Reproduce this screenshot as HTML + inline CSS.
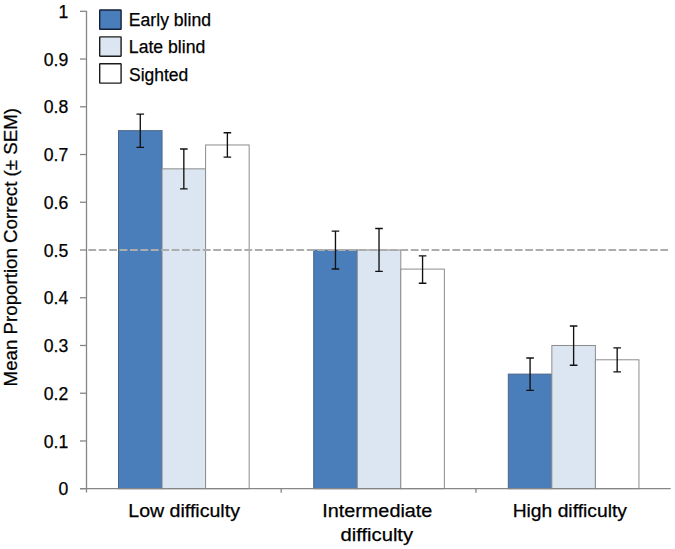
<!DOCTYPE html>
<html><head><meta charset="utf-8"><style>
html,body{margin:0;padding:0;background:#fff;}
body{width:675px;height:549px;overflow:hidden;}
svg{display:block;}
.t{font-family:"Liberation Sans",sans-serif;font-size:18px;fill:#000;stroke:#000;stroke-width:0.25px;}
</style></head><body>
<svg width="675" height="549" viewBox="0 0 675 549">
<rect x="118.50" y="130.65" width="43.55" height="358.05" fill="#4a7ebb" stroke="#4b6688" stroke-width="1"/>
<rect x="162.05" y="168.84" width="43.55" height="319.86" fill="#dce6f2" stroke="#8c8c8c" stroke-width="1"/>
<rect x="205.60" y="144.97" width="43.55" height="343.73" fill="#ffffff" stroke="#8c8c8c" stroke-width="1"/>
<rect x="313.70" y="250.00" width="43.55" height="238.70" fill="#4a7ebb" stroke="#4b6688" stroke-width="1"/>
<rect x="357.25" y="250.00" width="43.55" height="238.70" fill="#dce6f2" stroke="#8c8c8c" stroke-width="1"/>
<rect x="400.80" y="269.10" width="43.55" height="219.60" fill="#ffffff" stroke="#8c8c8c" stroke-width="1"/>
<rect x="508.30" y="374.12" width="43.55" height="114.58" fill="#4a7ebb" stroke="#4b6688" stroke-width="1"/>
<rect x="551.85" y="345.48" width="43.55" height="143.22" fill="#dce6f2" stroke="#8c8c8c" stroke-width="1"/>
<rect x="595.40" y="359.80" width="43.55" height="128.90" fill="#ffffff" stroke="#8c8c8c" stroke-width="1"/>
<line x1="88.4" y1="250.00" x2="668" y2="250.00" stroke="#adadad" stroke-width="2.2" stroke-dasharray="7.8 2.6"/>
<path d="M140.28 114.10V147.30M136.47 114.10H144.08M136.47 147.30H144.08" stroke="#111111" stroke-width="1.35" fill="none"/>
<path d="M183.83 149.00V188.90M180.03 149.00H187.63M180.03 188.90H187.63" stroke="#111111" stroke-width="1.35" fill="none"/>
<path d="M227.38 132.70V157.10M223.57 132.70H231.18M223.57 157.10H231.18" stroke="#111111" stroke-width="1.35" fill="none"/>
<path d="M335.47 231.10V269.00M331.67 231.10H339.27M331.67 269.00H339.27" stroke="#111111" stroke-width="1.35" fill="none"/>
<path d="M379.02 228.50V271.40M375.22 228.50H382.82M375.22 271.40H382.82" stroke="#111111" stroke-width="1.35" fill="none"/>
<path d="M422.57 255.80V283.20M418.77 255.80H426.37M418.77 283.20H426.37" stroke="#111111" stroke-width="1.35" fill="none"/>
<path d="M530.08 358.00V390.30M526.28 358.00H533.88M526.28 390.30H533.88" stroke="#111111" stroke-width="1.35" fill="none"/>
<path d="M573.62 326.00V365.20M569.83 326.00H577.42M569.83 365.20H577.42" stroke="#111111" stroke-width="1.35" fill="none"/>
<path d="M617.17 347.90V371.90M613.38 347.90H620.97M613.38 371.90H620.97" stroke="#111111" stroke-width="1.35" fill="none"/>
<line x1="86.5" y1="11" x2="86.5" y2="492.5" stroke="#868686" stroke-width="1.3"/>
<line x1="80" y1="488.70" x2="670.7" y2="488.70" stroke="#868686" stroke-width="1.3"/>
<line x1="80" y1="488.70" x2="86.5" y2="488.70" stroke="#868686" stroke-width="1.3"/>
<line x1="80" y1="440.96" x2="86.5" y2="440.96" stroke="#868686" stroke-width="1.3"/>
<line x1="80" y1="393.22" x2="86.5" y2="393.22" stroke="#868686" stroke-width="1.3"/>
<line x1="80" y1="345.48" x2="86.5" y2="345.48" stroke="#868686" stroke-width="1.3"/>
<line x1="80" y1="297.74" x2="86.5" y2="297.74" stroke="#868686" stroke-width="1.3"/>
<line x1="80" y1="250.00" x2="86.5" y2="250.00" stroke="#868686" stroke-width="1.3"/>
<line x1="80" y1="202.26" x2="86.5" y2="202.26" stroke="#868686" stroke-width="1.3"/>
<line x1="80" y1="154.52" x2="86.5" y2="154.52" stroke="#868686" stroke-width="1.3"/>
<line x1="80" y1="106.78" x2="86.5" y2="106.78" stroke="#868686" stroke-width="1.3"/>
<line x1="80" y1="59.04" x2="86.5" y2="59.04" stroke="#868686" stroke-width="1.3"/>
<line x1="80" y1="11.30" x2="86.5" y2="11.30" stroke="#868686" stroke-width="1.3"/>
<line x1="281.17" y1="488.70" x2="281.17" y2="492.70" stroke="#868686" stroke-width="1.3"/>
<line x1="475.93" y1="488.70" x2="475.93" y2="492.70" stroke="#868686" stroke-width="1.3"/>
<text x="68.2" y="495.40" text-anchor="end" class="t" style="font-size:17.6px">0</text>
<text x="68.2" y="447.66" text-anchor="end" class="t" style="font-size:17.6px">0.1</text>
<text x="68.2" y="399.92" text-anchor="end" class="t" style="font-size:17.6px">0.2</text>
<text x="68.2" y="352.18" text-anchor="end" class="t" style="font-size:17.6px">0.3</text>
<text x="68.2" y="304.44" text-anchor="end" class="t" style="font-size:17.6px">0.4</text>
<text x="68.2" y="256.70" text-anchor="end" class="t" style="font-size:17.6px">0.5</text>
<text x="68.2" y="208.96" text-anchor="end" class="t" style="font-size:17.6px">0.6</text>
<text x="68.2" y="161.22" text-anchor="end" class="t" style="font-size:17.6px">0.7</text>
<text x="68.2" y="113.48" text-anchor="end" class="t" style="font-size:17.6px">0.8</text>
<text x="68.2" y="65.74" text-anchor="end" class="t" style="font-size:17.6px">0.9</text>
<text x="68.2" y="18.00" text-anchor="end" class="t" style="font-size:17.6px">1</text>
<rect x="99.7" y="10.00" width="21.4" height="19.3" rx="0.4" fill="#4a7ebb" stroke="#14213a" stroke-width="1.4"/>
<text x="128.84" y="25.90" text-anchor="start" textLength="82.18" lengthAdjust="spacingAndGlyphs" class="t">Early blind</text>
<rect x="99.7" y="36.90" width="21.4" height="19.3" rx="0.4" fill="#dce6f2" stroke="#1c1c1c" stroke-width="1.4"/>
<text x="128.84" y="53.30" text-anchor="start" textLength="76.42" lengthAdjust="spacingAndGlyphs" class="t">Late blind</text>
<rect x="99.7" y="63.80" width="21.4" height="19.3" rx="0.4" fill="#ffffff" stroke="#1c1c1c" stroke-width="1.4"/>
<text x="129.03" y="81.00" text-anchor="start" textLength="59.21" lengthAdjust="spacingAndGlyphs" class="t">Sighted</text>
<text x="184.12" y="516.80" text-anchor="middle" textLength="111.63" lengthAdjust="spacingAndGlyphs" class="t">Low difficulty</text>
<text x="377.30" y="516.90" text-anchor="middle" textLength="110.08" lengthAdjust="spacingAndGlyphs" class="t">Intermediate</text>
<text x="376.80" y="541.20" text-anchor="middle" textLength="72.59" lengthAdjust="spacingAndGlyphs" class="t">difficulty</text>
<text x="569.80" y="516.60" text-anchor="middle" textLength="114.25" lengthAdjust="spacingAndGlyphs" class="t">High difficulty</text>
<text transform="translate(17.20 247.20) rotate(-90)" text-anchor="middle" textLength="278.49" lengthAdjust="spacingAndGlyphs" class="t">Mean Proportion Correct (± SEM)</text>
</svg>
</body></html>
